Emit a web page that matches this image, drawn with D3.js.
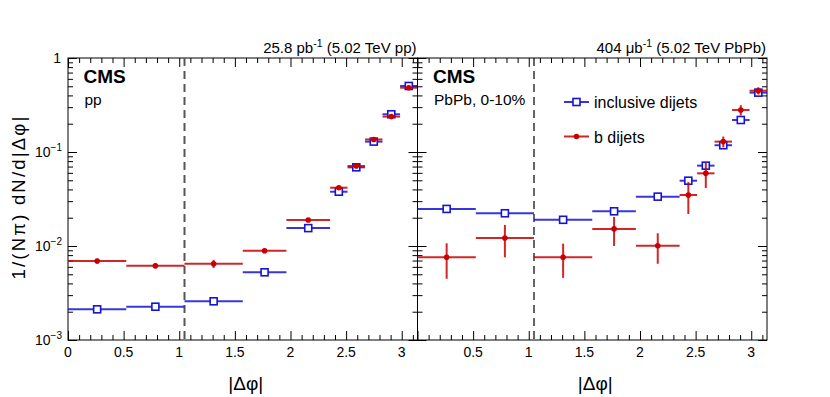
<!DOCTYPE html>
<html>
  <head>
    <meta charset="utf-8">
    <style>
      body { margin: 0; background: #fff; }
      svg { display: block; }
      text { font-family: "Liberation Sans", Arial, sans-serif; fill: #000; }
      .axis path, .axis line { stroke: #000; stroke-width: 1px; }
    </style>
  </head>
  <body>
    <svg></svg>
    <script src="https://cdnjs.cloudflare.com/ajax/libs/d3/7.8.5/d3.min.js"></script>
    <script>
      // bin edges in |dphi|
      var binEdges = [0, 0.524, 1.047, 1.571, 1.963, 2.356, 2.513, 2.670, 2.827, 2.985, 3.142];

      var ppIncl    = [0.00212, 0.00226, 0.00258, 0.00525, 0.0155, 0.0378, 0.0687, 0.129, 0.252, 0.504];
      var ppInclErr = [0.00004, 0.00004, 0.00005, 0.00008, 0.0002, 0.0005, 0.0008, 0.0015, 0.003, 0.006];
      var ppB       = [0.00692, 0.00617, 0.00648, 0.0089, 0.0189, 0.0417, 0.071, 0.136, 0.238, 0.483];
      var ppBErr    = [0.0004, 0.0004, 0.00065, 0.0005, 0.0007, 0.0015, 0.0025, 0.005, 0.008, 0.015];

      var pbIncl    = [0.0248, 0.0223, 0.0190, 0.0234, 0.0335, 0.0495, 0.0716, 0.118, 0.219, 0.428];
      var pbInclErr = [0.0004, 0.0004, 0.0004, 0.0005, 0.0006, 0.0009, 0.0012, 0.002, 0.004, 0.007];
      var pbB       = [0.00758, 0.01217, 0.00758, 0.0152, 0.01007, 0.0349, 0.0593, 0.129, 0.280, 0.449];
      var pbBErr    = [0.0031, 0.0046, 0.0030, 0.0052, 0.0036, 0.013, 0.018, 0.017, 0.035, 0.04];

      var xTicks = [0, 0.5, 1, 1.5, 2, 2.5, 3];
      var yTicks = [1, 0.1, 0.01, 0.001];
      var yTickLabels = [["1", ""], ["10", "\u22121"], ["10", "\u22122"], ["10", "\u22123"]];

      var blue = "#1414d2", red = "#c80000";

      var svg = d3.select("svg").attr("width", 830).attr("height", 397);

      var yTop = 58, yBot = 340;
      var y = d3.scaleLog().domain([0.001, 1]).range([yBot, yTop]);

      var panels = [
        { x0: 68, x1: 417.5, incl: ppIncl, inclErr: ppInclErr, b: ppB, bErr: ppBErr,
          lumi: ["25.8 pb", "-1", " (5.02 TeV pp)"], sys: "pp", dash: "#555", dashW: 2, zeroLabel: true },
        { x0: 417.5, x1: 767, incl: pbIncl, inclErr: pbInclErr, b: pbB, bErr: pbBErr,
          lumi: ["404 \u03bcb", "-1", " (5.02 TeV PbPb)"], sys: "PbPb, 0-10%", dash: "#000", dashW: 1.2, zeroLabel: false }
      ];

      var minorY = [];
      [0.001, 0.01, 0.1].forEach(function(d) {
        for (var k = 2; k <= 9; k++) minorY.push(d * k);
      });
      var minorX = d3.range(0, 3.15, 0.1).filter(function(v) {
        return Math.abs(v * 2 - Math.round(v * 2)) > 0.01;
      });

      panels.forEach(function(p, pi) {
        var x = d3.scaleLinear().domain([0, Math.PI]).range([p.x0, p.x1]);
        var g = svg.append("g");

        // axes, ticks inward
        function ax(axis, tx, ty) {
          g.append("g").attr("class", "axis").attr("transform", "translate(" + tx + "," + ty + ")")
            .call(axis).call(function(s) { s.selectAll("text").remove(); s.select(".domain").remove(); });
        }
        ax(d3.axisBottom(x).tickValues(xTicks).tickSize(-9).tickSizeOuter(0), 0, yBot);
        ax(d3.axisBottom(x).tickValues(minorX).tickSize(-5).tickSizeOuter(0), 0, yBot);
        ax(d3.axisTop(x).tickValues(xTicks).tickSize(-9).tickSizeOuter(0), 0, yTop);
        ax(d3.axisTop(x).tickValues(minorX).tickSize(-5).tickSizeOuter(0), 0, yTop);
        ax(d3.axisLeft(y).tickValues(yTicks).tickSize(-9).tickSizeOuter(0), p.x0, 0);
        ax(d3.axisLeft(y).tickValues(minorY).tickSize(-5).tickSizeOuter(0), p.x0, 0);
        ax(d3.axisRight(y).tickValues(yTicks).tickSize(-9).tickSizeOuter(0), p.x1, 0);
        ax(d3.axisRight(y).tickValues(minorY).tickSize(-5).tickSizeOuter(0), p.x1, 0);

        g.append("rect").attr("x", p.x0).attr("y", yTop).attr("width", p.x1 - p.x0).attr("height", yBot - yTop)
          .attr("fill", "none").attr("stroke", "#000").attr("stroke-width", 1);

        // x tick labels
        g.selectAll(".xl").data(xTicks.filter(function(d) { return p.zeroLabel || d > 0; }))
          .enter().append("text")
          .attr("x", function(d) { return x(d); }).attr("y", 357)
          .attr("text-anchor", "middle").attr("font-size", 14)
          .text(function(d) { return d; });

        g.append("text").attr("x", (p.x0 + p.x1) / 2 + 3).attr("y", 390).attr("text-anchor", "middle")
          .attr("font-size", 19).text("|\u0394\u03c6|");

        // dashed line at pi/3
        g.append("line").attr("x1", x(Math.PI / 3)).attr("x2", x(Math.PI / 3)).attr("y1", yTop).attr("y2", yBot)
          .attr("stroke", p.dash).attr("stroke-width", p.dashW).attr("stroke-dasharray", "8,5");

        // lumi text
        var lt = g.append("text").attr("x", p.x1 - 1).attr("y", 53).attr("text-anchor", "end").attr("font-size", 15);
        lt.append("tspan").text(p.lumi[0]);
        lt.append("tspan").attr("dy", -6).attr("font-size", 10.5).text(p.lumi[1]);
        lt.append("tspan").attr("dy", 6).text(p.lumi[2]);

        g.append("text").attr("x", p.x0 + 15.5).attr("y", 83).attr("font-size", 19).attr("font-weight", "bold").text("CMS");
        g.append("text").attr("x", p.x0 + 16.5).attr("y", 104.5).attr("font-size", 15.5).text(p.sys);

        // data
        var bins = d3.range(p.incl.length).map(function(i) {
          return { lo: binEdges[i], hi: binEdges[i + 1], c: (binEdges[i] + binEdges[i + 1]) / 2 };
        });

        function series(vals, errs, color, marker) {
          var s = g.append("g");
          bins.forEach(function(b, i) {
            s.append("line").attr("x1", x(b.lo)).attr("x2", x(b.hi)).attr("y1", y(vals[i])).attr("y2", y(vals[i]))
              .attr("stroke", color).attr("stroke-width", 2).attr("stroke-opacity", 0.85);
            s.append("line").attr("x1", x(b.c)).attr("x2", x(b.c))
              .attr("y1", y(vals[i] + errs[i])).attr("y2", y(Math.max(vals[i] - errs[i], 1e-4)))
              .attr("stroke", color).attr("stroke-width", 2).attr("stroke-opacity", 0.85);
            if (marker === "square") {
              s.append("rect").attr("x", x(b.c) - 3.5).attr("y", y(vals[i]) - 3.5).attr("width", 7).attr("height", 7)
                .attr("fill", "#fff").attr("stroke", color).attr("stroke-width", 1.6);
            } else {
              s.append("circle").attr("cx", x(b.c)).attr("cy", y(vals[i])).attr("r", 2.8).attr("fill", color);
            }
          });
        }
        series(p.incl, p.inclErr, blue, "square");
        series(p.b, p.bErr, red, "circle");
      });

      // y tick labels
      yTicks.forEach(function(v, i) {
        var t = svg.append("text").attr("y", y(v) + 5).attr("font-size", 14).attr("text-anchor", "end");
        if (yTickLabels[i][1] === "") {
          t.attr("x", 61).text(yTickLabels[i][0]);
        } else {
          t.attr("x", 62);
          t.append("tspan").text(yTickLabels[i][0]);
          t.append("tspan").attr("dy", -6).attr("font-size", 10).text(yTickLabels[i][1]);
        }
      });

      // y title
      svg.append("text").attr("transform", "translate(25,197) rotate(-90)").attr("text-anchor", "middle")
        .attr("font-size", 18.5).attr("letter-spacing", 2.2).text("1/(N\u03c0) dN/d|\u0394\u03c6|");

      // legend
      var legend = [
        { label: "inclusive dijets", color: blue, marker: "square", y: 102 },
        { label: "b dijets", color: red, marker: "circle", y: 136.5 }
      ];
      legend.forEach(function(l) {
        svg.append("line").attr("x1", 564).attr("x2", 589).attr("y1", l.y).attr("y2", l.y)
          .attr("stroke", l.color).attr("stroke-width", 2).attr("stroke-opacity", 0.85);
        if (l.marker === "square") {
          svg.append("rect").attr("x", 573).attr("y", l.y - 3.5).attr("width", 7).attr("height", 7)
            .attr("fill", "#fff").attr("stroke", l.color).attr("stroke-width", 1.6);
        } else {
          svg.append("circle").attr("cx", 576.5).attr("cy", l.y).attr("r", 2.8).attr("fill", l.color);
        }
        svg.append("text").attr("x", 594).attr("y", l.y + 6).attr("font-size", 16).text(l.label);
      });
    </script>
  </body>
</html>
